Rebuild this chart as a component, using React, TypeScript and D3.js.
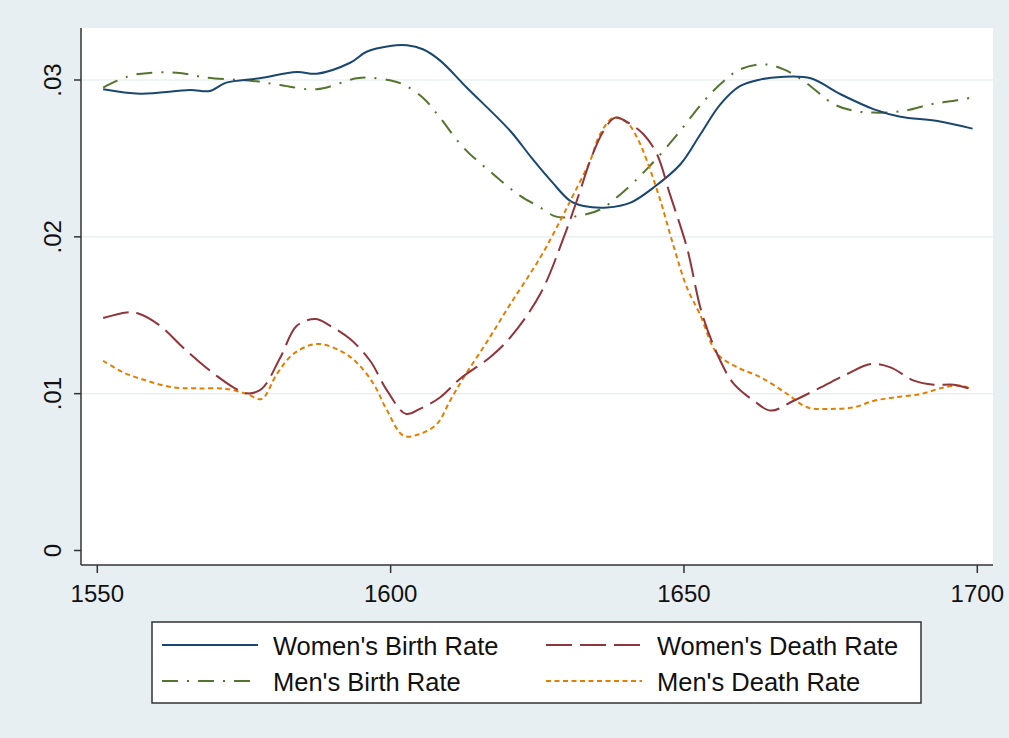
import React from 'react';
import * as d3 from 'd3';

const xTicks = [1550, 1600, 1650, 1700];
const yTicks = [0, 0.01, 0.02, 0.03];
const yTickLabels = ['0', '.01', '.02', '.03'];
const gridTicks = [0.01, 0.02, 0.03];

const seriesNames = ["Women's Birth Rate", "Women's Death Rate", "Men's Birth Rate", "Men's Death Rate"];

const womenBirth: [number, number][] = [
  [1551.0, 0.02941], [1557.3, 0.02913], [1565.8, 0.02936], [1569.2, 0.0293], [1572.0, 0.02983],
  [1577.7, 0.03011], [1584.0, 0.03051], [1587.4, 0.0304], [1593.1, 0.0311], [1595.9, 0.0318],
  [1599.9, 0.03217], [1602.8, 0.03221], [1605.5, 0.03196], [1608.4, 0.03125], [1613.0, 0.02951],
  [1620.4, 0.02675], [1624.0, 0.02505], [1627.5, 0.0235], [1630.6, 0.02229], [1632.9, 0.02197],
  [1636.9, 0.02187], [1640.9, 0.02218], [1644.8, 0.02314], [1649.4, 0.02463], [1652.8, 0.02654],
  [1656.2, 0.02845], [1659.6, 0.02962], [1663.1, 0.03004], [1666.5, 0.03019], [1671.6, 0.03011],
  [1676.7, 0.02909], [1682.4, 0.02813], [1686.9, 0.02766], [1693.2, 0.02739], [1699.2, 0.0269],
];

const womenDeath: [number, number][] = [
  [1551.0, 0.01482], [1555.0, 0.01518], [1557.0, 0.01511], [1560.7, 0.01433], [1564.6, 0.01295],
  [1567.5, 0.01199], [1570.3, 0.01115], [1573.2, 0.0104], [1575.5, 0.01002], [1578.0, 0.0103],
  [1581.2, 0.01231], [1584.0, 0.01433], [1587.2, 0.01476], [1589.7, 0.01433], [1593.1, 0.01348],
  [1596.5, 0.0121], [1599.4, 0.01019], [1602.6, 0.00871], [1605.0, 0.00903], [1608.4, 0.00976],
  [1611.8, 0.01094], [1616.9, 0.01231], [1620.4, 0.01359], [1625.5, 0.01635], [1629.5, 0.01996],
  [1632.3, 0.02293], [1634.0, 0.02484], [1636.3, 0.02675], [1638.3, 0.0276], [1640.9, 0.02718],
  [1643.1, 0.02654], [1645.4, 0.02527], [1647.6, 0.02272], [1650.5, 0.01932], [1653.1, 0.01508],
  [1656.2, 0.0121], [1658.5, 0.01062], [1661.9, 0.00955], [1664.8, 0.00892], [1668.7, 0.00955],
  [1673.3, 0.0104], [1677.8, 0.01125], [1681.8, 0.01189], [1685.2, 0.01168], [1689.2, 0.01083],
  [1692.6, 0.01057], [1696.0, 0.01057], [1698.9, 0.0103],
];

const menBirth: [number, number][] = [
  [1551.0, 0.02951], [1553.3, 0.02994], [1556.7, 0.03036], [1563.5, 0.03047], [1568.6, 0.03015],
  [1576.5, 0.02994], [1581.1, 0.02968], [1587.4, 0.02941], [1594.2, 0.03011], [1596.5, 0.03015],
  [1599.9, 0.02998], [1602.1, 0.02973], [1605.5, 0.02887], [1608.4, 0.0276], [1612.4, 0.02569],
  [1617.5, 0.02399], [1622.1, 0.02261], [1625.5, 0.02187], [1627.8, 0.02134], [1629.5, 0.02123],
  [1633.5, 0.02145], [1635.8, 0.02176], [1639.2, 0.02272], [1643.9, 0.02441], [1648.9, 0.02654],
  [1653.4, 0.02866], [1656.8, 0.02994], [1659.6, 0.03068], [1663.6, 0.031], [1667.0, 0.03068],
  [1670.4, 0.02994], [1675.6, 0.02845], [1679.0, 0.02803], [1682.4, 0.02792], [1687.5, 0.02803],
  [1692.1, 0.02845], [1696.6, 0.02871], [1699.5, 0.02892],
];

const menDeath: [number, number][] = [
  [1551.0, 0.0121], [1554.4, 0.01136], [1558.4, 0.01083], [1562.9, 0.0104], [1566.9, 0.01034],
  [1572.0, 0.0103], [1575.5, 0.00998], [1578.0, 0.00966], [1580.6, 0.01125], [1583.4, 0.01253],
  [1587.4, 0.01317], [1591.4, 0.01274], [1594.2, 0.01199], [1597.1, 0.01062], [1599.4, 0.00892],
  [1602.2, 0.00732], [1605.0, 0.00743], [1607.9, 0.00807], [1610.2, 0.0096], [1612.4, 0.0110],
  [1616.4, 0.0133], [1620.4, 0.01571], [1625.5, 0.01868], [1628.9, 0.02102], [1631.2, 0.02272],
  [1634.0, 0.02484], [1635.7, 0.02654], [1638.0, 0.0276], [1640.3, 0.02728], [1642.0, 0.02633],
  [1643.7, 0.02484], [1646.0, 0.02229], [1648.3, 0.01932], [1650.5, 0.01677], [1652.7, 0.01508],
  [1655.7, 0.01253], [1659.1, 0.01168], [1663.1, 0.01104], [1667.6, 0.00998], [1671.0, 0.00913],
  [1675.0, 0.00903], [1679.0, 0.00913], [1682.4, 0.00955], [1685.8, 0.00976], [1690.4, 0.00998],
  [1694.3, 0.0104], [1697.2, 0.01051], [1698.9, 0.0103],
];

const FONT = "'Liberation Sans', Arial, Helvetica, sans-serif";

const styles = [
  { color: '#1a476f', dash: 'none' },
  { color: '#90353b', dash: '26,8' },
  { color: '#55752f', dash: '16,9,2,9' },
  { color: '#e37e00', dash: '5,3.5' },
];

export default function App() {
  const W = 1009;
  const H = 738;
  const plot = { left: 81, right: 993, top: 28, bottom: 565 };
  const x = d3.scaleLinear().domain([1550, 1700]).range([97.3, 977.3]);
  const y = d3.scaleLinear().domain([0, 0.03]).range([550.5, 80]);
  const line = d3
    .line<[number, number]>()
    .x((d) => x(d[0]))
    .y((d) => y(d[1]))
    .curve(d3.curveCatmullRom.alpha(0.5));

  const series = [womenBirth, womenDeath, menBirth, menDeath];
  // draw order: men's birth, women's birth, men's death, women's death
  const order = [2, 0, 3, 1];

  const legend = { x0: 152, x1: 921, y0: 622, y1: 703 };
  const legendItems = [
    { idx: 0, sx: 162, tx: 273, ly: 645, ty: 655 },
    { idx: 1, sx: 546, tx: 657, ly: 645, ty: 655 },
    { idx: 2, sx: 162, tx: 273, ly: 681, ty: 691 },
    { idx: 3, sx: 546, tx: 657, ly: 681, ty: 691 },
  ];

  return (
    <div style={{ position: 'fixed', left: 0, top: 0, width: W, height: H }}>
      <svg width={W} height={H} style={{ display: 'block' }}>
        <rect x={0} y={0} width={W} height={H} fill="#e8eff2" />
        <rect
          x={plot.left}
          y={plot.top}
          width={plot.right - plot.left}
          height={plot.bottom - plot.top}
          fill="#ffffff"
        />
        {gridTicks.map((t) => (
          <line
            key={'g' + t}
            x1={plot.left}
            x2={plot.right}
            y1={y(t)}
            y2={y(t)}
            stroke="#eaf0f2"
            strokeWidth={1.5}
          />
        ))}
        {order.map((i) => (
          <path
            key={'s' + i}
            d={line(series[i]) || ''}
            fill="none"
            stroke={styles[i].color}
            strokeWidth={2}
            strokeDasharray={styles[i].dash}
            strokeLinejoin="round"
          />
        ))}
        {/* axes */}
        <line x1={plot.left} x2={plot.left} y1={plot.top} y2={plot.bottom} stroke="#333" strokeWidth={1.5} />
        <line x1={plot.left} x2={plot.right} y1={plot.bottom} y2={plot.bottom} stroke="#333" strokeWidth={1.5} />
        {yTicks.map((t, i) => (
          <g key={'yt' + t}>
            <line x1={plot.left - 7} x2={plot.left} y1={y(t)} y2={y(t)} stroke="#333" strokeWidth={1.5} />
            <text
              transform={`translate(61,${y(t)}) rotate(-90)`}
              textAnchor="middle"
              fontFamily={FONT}
              fontSize={24}
              fill="#111"
            >
              {yTickLabels[i]}
            </text>
          </g>
        ))}
        {xTicks.map((t) => (
          <g key={'xt' + t}>
            <line x1={x(t)} x2={x(t)} y1={plot.bottom} y2={plot.bottom + 8} stroke="#333" strokeWidth={1.5} />
            <text x={x(t)} y={602} textAnchor="middle" fontFamily={FONT} fontSize={24} fill="#111">
              {t}
            </text>
          </g>
        ))}
        {/* legend */}
        <rect
          x={legend.x0}
          y={legend.y0}
          width={legend.x1 - legend.x0}
          height={legend.y1 - legend.y0}
          fill="#ffffff"
          stroke="#333"
          strokeWidth={1.5}
        />
        {legendItems.map((it) => (
          <g key={'l' + it.idx}>
            <line
              x1={it.sx}
              x2={it.sx + 96}
              y1={it.ly}
              y2={it.ly}
              stroke={styles[it.idx].color}
              strokeWidth={2}
              strokeDasharray={styles[it.idx].dash}
            />
            <text x={it.tx} y={it.ty} fontFamily={FONT} fontSize={25.5} fill="#111">
              {seriesNames[it.idx]}
            </text>
          </g>
        ))}
      </svg>
    </div>
  );
}
